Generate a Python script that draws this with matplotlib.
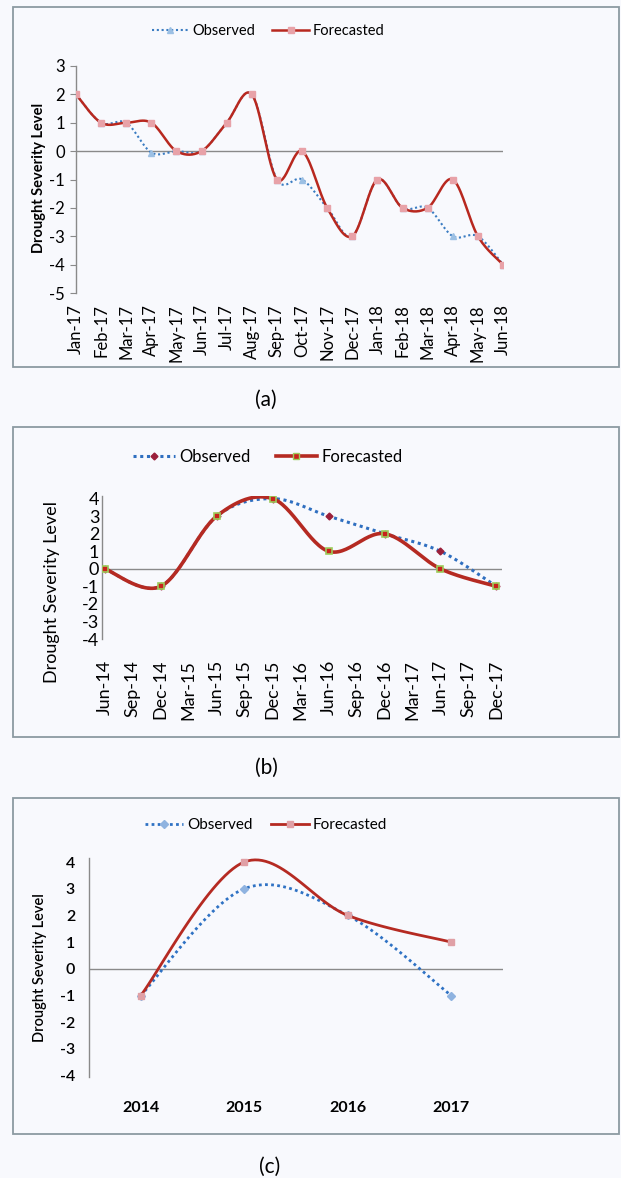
#!/usr/bin/env python3
"""Observed vs forecasted drought severity, three stacked panels (a), (b), (c)."""
import numpy as np
import matplotlib.pyplot as plt
from matplotlib.patches import Rectangle

plt.rcParams['font.family'] = ['Lato', 'DejaVu Sans']
plt.rcParams['axes.unicode_minus'] = False

W, H = 621, 1178
BG = '#f8f9fd'
FRAME = '#8c9aa2'
AXIS = '#8a8a8a'

# panel (a): monthly
A_LABELS = ['Jan-17', 'Feb-17', 'Mar-17', 'Apr-17', 'May-17', 'Jun-17', 'Jul-17', 'Aug-17', 'Sep-17',
            'Oct-17', 'Nov-17', 'Dec-17', 'Jan-18', 'Feb-18', 'Mar-18', 'Apr-18', 'May-18', 'Jun-18']
A_OBS = [2, 1, 1, -0.05, 0, 0, 1, 2, -1, -1, -2, -3, -1, -2, -2, -3, -3, -4]
A_FC = [2, 1, 1, 1, 0, 0, 1, 2, -1, 0, -2, -3, -1, -2, -2, -1, -3, -4]

# panel (b): half-yearly points on a quarterly axis
B_LABELS = ['Jun-14', 'Sep-14', 'Dec-14', 'Mar-15', 'Jun-15', 'Sep-15', 'Dec-15', 'Mar-16',
            'Jun-16', 'Sep-16', 'Dec-16', 'Mar-17', 'Jun-17', 'Sep-17', 'Dec-17']
B_DATES = ['Jun-14', 'Dec-14', 'Jun-15', 'Dec-15', 'Jun-16', 'Dec-16', 'Jun-17', 'Dec-17']
B_OBS = [0, -1, 3, 4, 3, 2, 1, -1]
B_FC = [0, -1, 3, 4, 1, 2, 0, -1]

# panel (c): yearly
C_LABELS = ['2014', '2015', '2016', '2017']
C_OBS = [-1, 3, 2, -1]
C_FC = [-1, 4, 2, 1]

YLABEL = 'Drought Severity Level'


def smooth(x, y, n=30):
    """Bezier smoothing through the points (Excel style, Catmull-Rom / 6)."""
    x = np.asarray(x, float)
    y = np.asarray(y, float)
    p = np.column_stack([x, y])
    out = [p[:1]]
    t = np.linspace(0, 1, n)[1:, None]
    for i in range(len(p) - 1):
        p0 = p[i - 1] if i > 0 else p[i]
        p3 = p[i + 2] if i + 2 < len(p) else p[i + 1]
        c1 = p[i] + (p[i + 1] - p0) / 6
        c2 = p[i + 1] - (p3 - p[i]) / 6
        seg = ((1 - t) ** 3) * p[i] + 3 * ((1 - t) ** 2) * t * c1 + 3 * (1 - t) * t ** 2 * c2 + t ** 3 * p[i + 1]
        out.append(seg)
    q = np.vstack(out)
    return q[:, 0], q[:, 1]


def px_axes(fig, left, right, top, bottom):
    return fig.add_axes([left / W, 1 - bottom / H, (right - left) / W, (bottom - top) / H])


def frame(fig, top, bottom):
    fig.patches.append(Rectangle((13 / W, 1 - bottom / H), (619 - 13) / W, (bottom - top) / H,
                                 transform=fig.transFigure, fill=False, edgecolor=FRAME, lw=1.3))


def style_axes(ax):
    ax.set_facecolor('none')
    for s in ['top', 'right', 'bottom']:
        ax.spines[s].set_visible(False)
    ax.spines['left'].set_color(AXIS)
    ax.spines['left'].set_linewidth(1.0)
    ax.axhline(0, color=AXIS, lw=1.0, zorder=1)


def ylabel_at(fig, x, y, **kw):
    fig.text(x / W, 1 - y / H, YLABEL, rotation=90, ha='center', va='center', **kw)


fig = plt.figure(figsize=(W / 100, H / 100), dpi=100, facecolor=BG)

# ---- (a)
frame(fig, 7, 367)
ax = px_axes(fig, 76, 503, 66, 293)
style_axes(ax)
xa = np.arange(len(A_LABELS))
sx, sy = smooth(xa, A_OBS)
ax.plot(sx, sy, color='#3a7cc2', lw=1.5, ls=(0, (1, 1.3)), zorder=2)
ax.plot(xa, A_OBS, ls='none', marker='^', ms=4, color='#9cc0e4', zorder=3)
sx, sy = smooth(xa, A_FC)
ax.plot(sx, sy, color='#b8281f', lw=1.8, zorder=4)
ax.plot(xa, A_FC, ls='none', marker='s', ms=5, color='#e8a2a8', zorder=5)
ax.set_xlim(0, 17)
ax.set_ylim(-5, 3)
ax.set_yticks(range(-5, 4))
ax.tick_params(axis='y', length=4, color=AXIS, labelsize=12, pad=4)
ax.set_xticks(xa)
ax.set_xticklabels(A_LABELS, rotation=90, fontsize=12)
ax.tick_params(axis='x', length=0, pad=8)
ylabel_at(fig, 39, 178, fontsize=10.5, fontweight='bold')
ax.plot([], [], color='#3a7cc2', lw=1.5, ls=(0, (1, 1.3)), marker='^', ms=4, mfc='#9cc0e4',
        mec='#9cc0e4', label='Observed')
ax.plot([], [], color='#b8281f', lw=1.8, marker='s', ms=5, mfc='#e8a2a8', mec='#e8a2a8',
        label='Forecasted')
ax.legend(loc='center', bbox_to_anchor=(268 / W, 1 - 31 / H), bbox_transform=fig.transFigure,
          ncol=2, frameon=False, fontsize=10.5, handlelength=2.5, columnspacing=1.2, handletextpad=0.25)
fig.text(266 / W, 1 - 400 / H, '(a)', ha='center', va='center', fontsize=15)

# ---- (b)
frame(fig, 427, 737)
ax = px_axes(fig, 102, 502, 496, 639)
style_axes(ax)
xb = np.array([B_LABELS.index(d) for d in B_DATES])
sx, sy = smooth(xb, B_OBS)
ax.plot(sx, sy, color='#2f6fc0', lw=2.2, ls=(0, (1, 1.2)), zorder=2)
ax.plot(xb, B_OBS, ls='none', marker='D', ms=3.5, color='#9b1f3a', zorder=3)
sx, sy = smooth(xb, B_FC)
ax.plot(sx, sy, color='#b52a22', lw=2.6, zorder=4)
ax.plot(xb, B_FC, ls='none', marker='s', ms=5, mfc='#c8221c', mec='#9ccc5c', mew=1.2, zorder=5)
ax.set_xlim(-0.1, 14.2)
ax.set_ylim(-3.9, 4.15)
ax.set_yticks(range(-4, 5))
ax.tick_params(axis='y', length=0, labelsize=13, pad=2)
ax.set_xticks(range(len(B_LABELS)))
ax.set_xticklabels(B_LABELS, rotation=90, fontsize=13)
ax.tick_params(axis='x', length=0, pad=15)
ylabel_at(fig, 52, 592, fontsize=13)
ax.plot([], [], color='#2f6fc0', lw=2.2, ls=(0, (1, 1.2)), marker='D', ms=3.5, mfc='#9b1f3a',
        mec='#9b1f3a', label='Observed')
ax.plot([], [], color='#b52a22', lw=2.6, marker='s', ms=5, mfc='#c8221c', mec='#9ccc5c',
        label='Forecasted')
ax.legend(loc='center', bbox_to_anchor=(268 / W, 1 - 457 / H), bbox_transform=fig.transFigure,
          ncol=2, frameon=False, fontsize=12, handlelength=2.5, columnspacing=1.5, handletextpad=0.25)
fig.text(266 / W, 1 - 768 / H, '(b)', ha='center', va='center', fontsize=15)

# ---- (c)
frame(fig, 798, 1134)
ax = px_axes(fig, 89, 503, 858, 1077)
style_axes(ax)
xc = np.arange(len(C_LABELS))
sx, sy = smooth(xc, C_OBS)
ax.plot(sx, sy, color='#2f72c4', lw=2.0, ls=(0, (1, 1.2)), zorder=2)
ax.plot(xc, C_OBS, ls='none', marker='D', ms=4.5, color='#8fb3e0', zorder=3)
sx, sy = smooth(xc, C_FC)
ax.plot(sx, sy, color='#b52a22', lw=2.0, zorder=4)
ax.plot(xc, C_FC, ls='none', marker='s', ms=5, color='#e0a0a6', zorder=5)
ax.set_xlim(-0.5, 3.5)
ax.set_ylim(-4.05, 4.15)
ax.set_yticks(range(-4, 5))
ax.tick_params(axis='y', length=0, labelsize=11.5, pad=10)
ax.set_xticks(xc)
ax.set_xticklabels(C_LABELS, fontsize=11.5, fontweight='bold')
ax.tick_params(axis='x', length=0, pad=17)
for lab in ax.get_yticklabels():
    lab.set_fontweight('semibold')
ylabel_at(fig, 40, 968, fontsize=10.5, fontweight='semibold')
ax.plot([], [], color='#2f72c4', lw=2.0, ls=(0, (1, 1.2)), marker='D', ms=4.5, mfc='#8fb3e0',
        mec='#8fb3e0', label='Observed')
ax.plot([], [], color='#b52a22', lw=2.0, marker='s', ms=5, mfc='#e0a0a6', mec='#e0a0a6',
        label='Forecasted')
ax.legend(loc='center', bbox_to_anchor=(266 / W, 1 - 825 / H), bbox_transform=fig.transFigure,
          ncol=2, frameon=False, fontsize=11, handlelength=2.5, columnspacing=1.2, handletextpad=0.25)
fig.text(270 / W, 1 - 1167 / H, '(c)', ha='center', va='center', fontsize=15)

fig.savefig('out.png', dpi=100, facecolor=BG)
